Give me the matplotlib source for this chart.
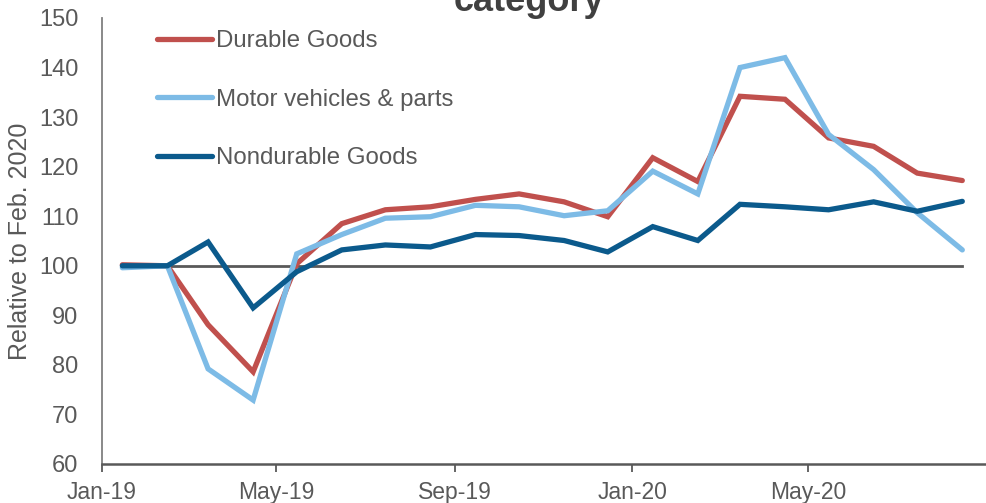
import matplotlib
matplotlib.use("Agg")
import matplotlib.pyplot as plt
import matplotlib.dates as mdates
import datetime as dt

plt.rcParams['font.family'] = ['Liberation Sans', 'DejaVu Sans']

# Monthly observations (plotted mid-month)
months = [dt.date(2019 + (m // 12), m % 12 + 1, 15) for m in range(20)]

durable = [100.2, 100.0, 88.1, 78.6, 100.4, 108.5, 111.3, 111.9, 113.4, 114.5,
           112.9, 109.9, 121.8, 117.0, 134.2, 133.6, 125.8, 124.1, 118.7, 117.2]
motor = [99.6, 100.0, 79.2, 72.9, 102.4, 106.3, 109.6, 109.9, 112.2, 111.9,
         110.1, 111.1, 119.1, 114.5, 140.0, 142.0, 126.5, 119.4, 110.7, 103.2]
nondurable = [100.0, 100.0, 104.8, 91.5, 98.8, 103.2, 104.2, 103.8, 106.3, 106.1,
              105.1, 102.8, 107.9, 105.1, 112.4, 111.9, 111.3, 112.9, 111.0, 113.0]

series_labels = ["Durable Goods", "Motor vehicles & parts", "Nondurable Goods"]
series_colors = ["#C0504D", "#7DBBE6", "#0B5A8C"]

tick_dates = [dt.date(2019, 1, 1), dt.date(2019, 5, 1), dt.date(2019, 9, 1),
              dt.date(2020, 1, 1), dt.date(2020, 5, 1)]
y_ticks = [60, 70, 80, 90, 100, 110, 120, 130, 140, 150]

W, H = 987, 503
fig = plt.figure(figsize=(W / 100, H / 100), dpi=100)
ax = fig.add_axes([102 / W, (H - 464) / H, (W - 102) / W, 446 / H])

grey = "#595959"
ax.plot([months[0], months[-1]], [100, 100], color=grey, lw=2.0, zorder=1)

for vals, lab, col in zip([durable, motor, nondurable], series_labels, series_colors):
    ax.plot(months, vals, color=col, lw=3.8, label=lab,
            solid_capstyle='round', solid_joinstyle='miter', zorder=2)

ax.set_xlim(dt.date(2019, 1, 1), dt.date(2020, 9, 1))
ax.set_ylim(60, 150)
ax.set_yticks(y_ticks)
ax.set_xticks(tick_dates)
ax.xaxis.set_major_formatter(mdates.DateFormatter("%b-%y"))

for s in ["top", "right"]:
    ax.spines[s].set_visible(False)
ax.spines["left"].set_color("#808080")
ax.spines["left"].set_linewidth(1.3)
ax.spines["bottom"].set_color(grey)
ax.spines["bottom"].set_linewidth(1.8)

ax.tick_params(axis='x', direction='out', length=6, width=1.3, color=grey,
               labelcolor=grey, labelsize=16.5, pad=6)
ax.tick_params(axis='y', length=0, labelcolor=grey, labelsize=17, pad=17)

ax.set_ylabel("Relative to Feb. 2020", fontsize=18, color=grey)
ax.yaxis.set_label_coords(-(102 - 32) / (W - 102), 0.5)

fig.text(529 / W, 1 - 11 / H, "category", ha='center', va='baseline',
         fontsize=26, fontweight='bold', color="#404040")

leg = ax.legend(loc='upper left', bbox_to_anchor=(157 / W, 1 - 30 / H),
                bbox_transform=fig.transFigure, frameon=False, fontsize=17.3,
                handlelength=2.3, handletextpad=0.15, labelspacing=1.52,
                borderaxespad=0, borderpad=0)
for t in leg.get_texts():
    t.set_color(grey)

fig.savefig("out.png", dpi=100)
